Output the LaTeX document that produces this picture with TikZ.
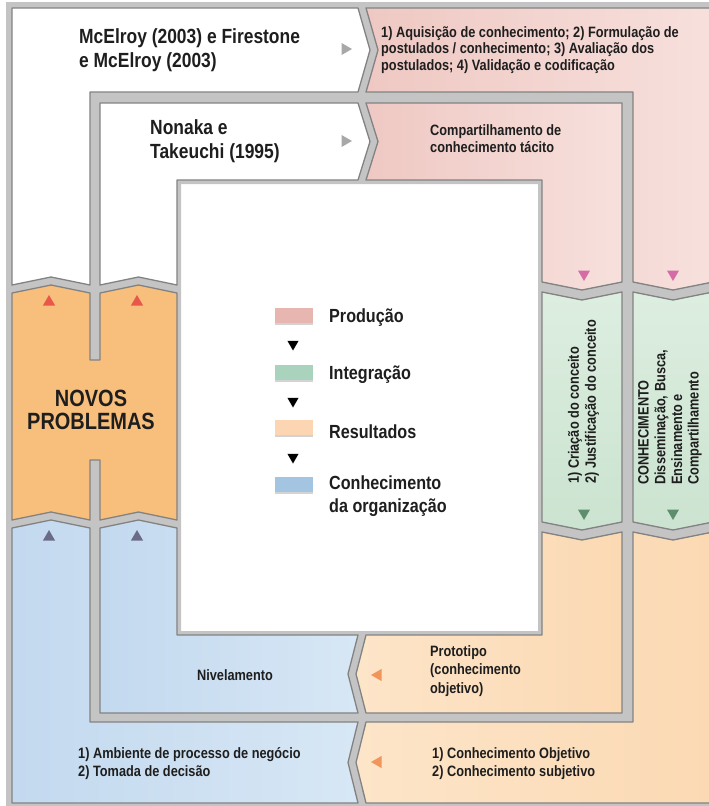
\documentclass[tikz,border=0pt]{standalone}
\usepackage{fontspec}
\setmainfont{Liberation Sans}[FakeStretch=0.85]
\usetikzlibrary{shapes.geometric,shadows}

\definecolor{gapgray}{HTML}{C4C4C4}
\definecolor{edgegray}{HTML}{828282}
\definecolor{pinkA}{HTML}{EFC8C3}
\definecolor{pinkB}{HTML}{F7E0DC}
\definecolor{greenA}{HTML}{CBE3D0}
\definecolor{greenB}{HTML}{DDEEE0}
\definecolor{peachA}{HTML}{FDE5C9}
\definecolor{peachB}{HTML}{FBD9B3}
\definecolor{blueA}{HTML}{C3D9EF}
\definecolor{blueB}{HTML}{D7E7F5}
\definecolor{orangeF}{HTML}{F8BE7C}
\definecolor{txt}{HTML}{1E1E1E}
\definecolor{triGray}{HTML}{A8A8A8}
\definecolor{triPink}{HTML}{D46CA6}
\definecolor{triGreen}{HTML}{5E8E6E}
\definecolor{triRed}{HTML}{E8574A}
\definecolor{triSlate}{HTML}{6B6B88}
\definecolor{triOrange}{HTML}{F0965A}
\definecolor{legPink}{HTML}{E8B6B1}
\definecolor{legGreen}{HTML}{AAD3BD}
\definecolor{legPeach}{HTML}{FCD6B3}
\definecolor{legBlue}{HTML}{A4C5E1}

\tikzset{
  piece/.style={draw=edgegray, line width=1.3pt, line join=round},
  tri/.style={regular polygon, regular polygon sides=3, minimum size=14pt,
    inner sep=0pt, draw=none},
  swatch/.style={minimum width=38pt, minimum height=15pt, inner sep=0pt,
    draw=none, drop shadow={opacity=0.35, shadow xshift=0pt, shadow yshift=-1.5pt}},
  bigtxt/.style={font=\bfseries\fontsize{20.5}{23.5}\selectfont, text=txt,
    align=left, anchor=west, inner sep=0pt},
  smalltxt/.style={font=\bfseries\fontsize{15}{17}\selectfont, text=txt,
    align=left, anchor=west, inner sep=0pt},
  legtxt/.style={font=\bfseries\fontsize{19}{23}\selectfont, text=txt,
    align=left, anchor=west, inner sep=0pt}
}

\begin{document}
\begin{tikzpicture}[x=1pt, y=-1pt]
\useasboundingbox (0,0) rectangle (709,806);

% grey channels between the bands
\fill[gapgray, even odd rule] (6,2) rectangle (713,806) (181,184) rectangle (538,631);

% outer ring
\path[piece, fill=white] (12,8) -- (358,8) -- (370,50) -- (358,92) -- (90,92)
  -- (90,285) -- (51,277) -- (12,285) -- cycle;
\path[piece, left color=pinkA, right color=pinkB] (366,8) -- (713,8) -- (713,282)
  -- (673,290) -- (633,282) -- (633,92) -- (366,92) -- (378,50) -- cycle;
\path[piece, top color=greenB, bottom color=greenA] (633,292) -- (673,300) -- (713,292)
  -- (713,522) -- (673,530) -- (633,522) -- cycle;
\path[piece, left color=peachA, right color=peachB] (633,532) -- (673,540) -- (713,532)
  -- (713,803) -- (366,803) -- (356,762.5) -- (366,722) -- (633,722) -- cycle;
\path[piece, left color=blueA, right color=blueB] (12,528) -- (51,520) -- (90,528)
  -- (90,722) -- (358,722) -- (348,762.5) -- (358,803) -- (12,803) -- cycle;

% inner ring
\path[piece, fill=white] (100,103) -- (358,103) -- (370,141.5) -- (358,180)
  -- (177,180) -- (177,285) -- (138.5,277) -- (100,285) -- cycle;
\path[piece, left color=pinkA, right color=pinkB] (366,103) -- (622,103) -- (622,282)
  -- (582,290) -- (542,282) -- (542,180) -- (366,180) -- (378,141.5) -- cycle;
\path[piece, top color=greenB, bottom color=greenA] (542,292) -- (582,300) -- (622,292)
  -- (622,522) -- (582,530) -- (542,522) -- cycle;
\path[piece, left color=peachA, right color=peachB] (542,532) -- (582,540) -- (622,532)
  -- (622,713) -- (366,713) -- (356,674) -- (366,635) -- (542,635) -- cycle;
\path[piece, left color=blueA, right color=blueB] (100,528) -- (138.5,520) -- (177,528)
  -- (177,635) -- (358,635) -- (348,674) -- (358,713) -- (100,713) -- cycle;

% joined left block
\path[piece, fill=orangeF] (12,293) -- (51,285) -- (90,293) -- (90,360) -- (100,360)
  -- (100,293) -- (138.5,285) -- (177,293) -- (177,520) -- (138.5,512) -- (100,520)
  -- (100,460) -- (90,460) -- (90,520) -- (51,512) -- (12,520) -- cycle;

% direction markers
\node[tri, fill=triGray, rotate=-90] (g1) at (345,49) {};
\node[tri, fill=triGray, rotate=-90] (g2) at (345,141) {};
\node[tri, fill=triPink, rotate=180] (p1) at (584,274) {};
\node[tri, fill=triPink, rotate=180] (p2) at (673,274) {};
\node[tri, fill=triGreen, rotate=180] (v1) at (584,513) {};
\node[tri, fill=triGreen, rotate=180] (v2) at (673,513) {};
\node[tri, fill=triRed] (r1) at (49,302) {};
\node[tri, fill=triRed] (r2) at (137,302) {};
\node[tri, fill=triSlate] (s1) at (49,537) {};
\node[tri, fill=triSlate] (s2) at (137,537) {};
\node[tri, fill=triOrange, rotate=90] (o1) at (378,675) {};
\node[tri, fill=triOrange, rotate=90] (o2) at (378,762) {};

% band texts
\node[bigtxt] (mcelroy) at (79,50) {McElroy (2003) e Firestone\\e McElroy (2003)};
\node[smalltxt, font=\bfseries\fontsize{15}{16.5}\selectfont] (aquis) at (381,50)
  {1) Aquisição de conhecimento; 2) Formulação de\\postulados / conhecimento; 3) Avaliação dos\\postulados; 4) Validação e codificação};
\node[bigtxt] (nonaka) at (150,141) {Nonaka e\\Takeuchi (1995)};
\node[smalltxt] (compart) at (430,139) {Compartilhamento de\\conhecimento tácito};
\node[font=\bfseries\fontsize{23.5}{23.5}\selectfont, text=txt, align=center,
  inner sep=0pt] (novos) at (91,410) {NOVOS\\PROBLEMAS};
\node[smalltxt, rotate=90] (criacao) at (583.5,484) {1) Criação do conceito\\2) Justificação do conceito};
\node[smalltxt, font=\bfseries\fontsize{15}{16.7}\selectfont, rotate=90] (conhec) at (670,485)
  {CONHECIMENTO\\Disseminação, Busca,\\Ensinamento e\\Compartilhamento};
\node[smalltxt, anchor=center] (nivel) at (235,675) {Nivelamento};
\node[smalltxt, font=\bfseries\fontsize{15}{18}\selectfont] (ambiente) at (78,764)
  {1) Ambiente de processo de negócio\\2) Tomada de decisão};
\node[smalltxt, font=\bfseries\fontsize{15}{18.5}\selectfont] (proto) at (430,671)
  {Prototipo\\(conhecimento\\objetivo)};
\node[smalltxt, font=\bfseries\fontsize{15}{18}\selectfont] (objet) at (432,764)
  {1) Conhecimento Objetivo\\2) Conhecimento subjetivo};

% legend
\node[swatch, fill=legPink] (lp) at (294,315.5) {};
\node[swatch, fill=legGreen] (lg) at (294,372.5) {};
\node[swatch, fill=legPeach] (lr) at (294,427.5) {};
\node[swatch, fill=legBlue] (lb) at (294,484.5) {};
\node[tri, fill=black, rotate=180, minimum size=13pt] (a1) at (293,344) {};
\node[tri, fill=black, rotate=180, minimum size=13pt] (a2) at (293,401) {};
\node[tri, fill=black, rotate=180, minimum size=13pt] (a3) at (293,457) {};
\node[legtxt] (tp) at (329,318) {Produção};
\node[legtxt] (tg) at (329,375) {Integração};
\node[legtxt] (tr) at (329,432) {Resultados};
\node[legtxt] (tb) at (329,496) {Conhecimento\\da organização};
\end{tikzpicture}
\end{document}
